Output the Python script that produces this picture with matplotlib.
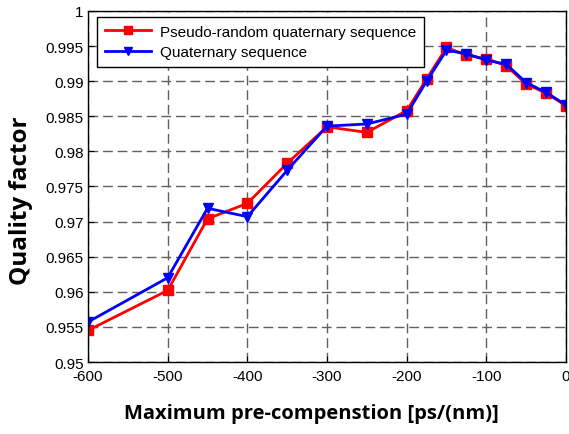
import numpy as np
import matplotlib
matplotlib.use('Agg')
import matplotlib.pyplot as plt

# pre-compensation values [ps/(nm)]
precomp = [-600, -500, -450, -400, -350, -300, -250, -200, -175, -150, -125, -100, -75, -50, -25, 0]
# quality factor for each sequence
q_pseudo = [0.9545, 0.9602, 0.9704, 0.9726, 0.9783, 0.9835, 0.9827, 0.9858, 0.9903, 0.9948,
            0.9937, 0.9932, 0.9922, 0.9896, 0.9883, 0.9865]
q_quat = [0.9557, 0.9620, 0.9719, 0.9707, 0.9773, 0.9836, 0.9839, 0.9853, 0.9900, 0.9944,
          0.9939, 0.9930, 0.9924, 0.9898, 0.9884, 0.9866]

plt.rcParams['font.family'] = ['Liberation Sans', 'DejaVu Sans']
plt.rcParams['axes.unicode_minus'] = False

fig = plt.figure(figsize=(5.69, 4.35), dpi=100)
ax = fig.add_axes([0.1547, 0.1655, 0.84, 0.807])

ax.plot(precomp, q_pseudo, color='#ff0000', lw=2, marker='s', ms=7.5,
        label='Pseudo-random quaternary sequence')
ax.plot(precomp, q_quat, color='#0000ff', lw=2, marker='v', ms=7.5,
        label='Quaternary sequence')

ax.set_xlim(-600, 0)
ax.set_ylim(0.95, 1.0)
ax.set_xticks(np.arange(-600, 1, 100))
ax.set_yticks(np.arange(0.95, 1.0001, 0.005))
ax.set_yticklabels(['0.95', '0.955', '0.96', '0.965', '0.97', '0.975',
                    '0.98', '0.985', '0.99', '0.995', '1'])
ax.tick_params(direction='in', labelsize=11, length=4, width=0.8, colors='black', pad=3)
ax.tick_params(axis='x', pad=5)
ax.grid(True, color='#606060', linestyle=(0, (7, 3.5)), lw=1)
for s in ax.spines.values():
    s.set_linewidth(1)

ax.set_xlabel('Maximum pre-compenstion [ps/(nm)]', fontsize=14.5, fontweight='bold',
              family='Open Sans')
ax.set_ylabel('Quality factor', fontsize=17.5, fontweight='bold', family='Open Sans')
ax.xaxis.set_label_coords(0.4665, -0.117)
ax.yaxis.set_label_coords(-0.115, 0.463)

leg = ax.legend(loc='upper left', bbox_to_anchor=(0.019, 0.983), borderaxespad=0,
                fontsize=11, fancybox=False, framealpha=1, edgecolor='black',
                handlelength=3.0, handletextpad=0.6, borderpad=0.5,
                labelspacing=0.45, markerscale=0.75)
leg.get_frame().set_linewidth(1)

fig.savefig('out.png', dpi=100)
